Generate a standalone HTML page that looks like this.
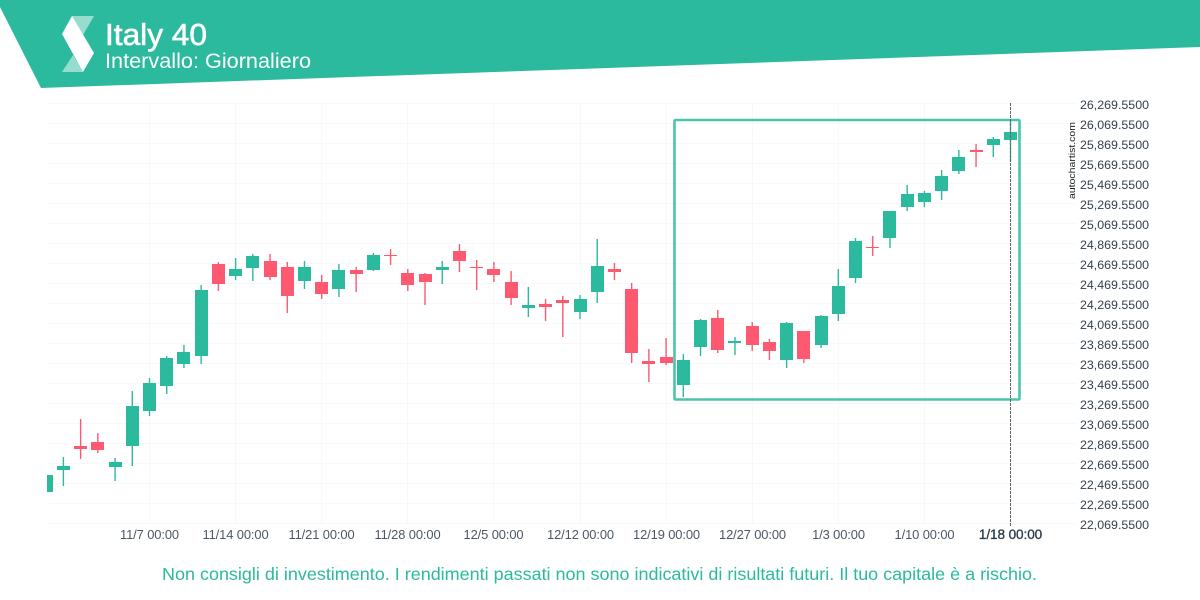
<!DOCTYPE html>
<html lang="it">
<head>
<meta charset="utf-8">
<title>Italy 40</title>
<style>
html,body{margin:0;padding:0;background:#fff;}
svg{display:block;font-family:"Liberation Sans",sans-serif;}
</style>
</head>
<body>
<svg id="chart" xmlns="http://www.w3.org/2000/svg" width="1200" height="600" viewBox="0 0 1200 600">
  <defs><clipPath id="plot-clip"><rect x="47" y="95" width="1030" height="440"/></clipPath></defs>
  <polygon points="0,0 1200,0 1200,47 41,88 0,7" fill="#2bba9e"/>
  <g>
    <polygon points="72,16 94,16 83,35" fill="#fff" fill-opacity="0.5"/>
    <polygon points="62,72 83,72 73,55" fill="#fff" fill-opacity="0.5"/>
    <polygon points="72,16 94,53 83,72 62,34" fill="#fff"/>
  </g>
  <text x="105" y="45" font-size="30.5" fill="#fff" stroke="#fff" stroke-width="0.6" textLength="102" lengthAdjust="spacingAndGlyphs">Italy 40</text>
  <text x="105" y="68" font-size="21" fill="#fff" textLength="206" lengthAdjust="spacingAndGlyphs">Intervallo: Giornaliero</text>
  <g id="grid"></g>
  <g id="candles" clip-path="url(#plot-clip)"></g>
  <rect x="674.5" y="120" width="345" height="279.5" rx="1" fill="none" stroke="#2bba9e" stroke-width="2.6" stroke-opacity="0.85"/>
  <line x1="1010.5" y1="103" x2="1010.5" y2="527" stroke="#666" stroke-width="1" stroke-dasharray="3,1"/>
  <g id="y-axis"></g>
  <g id="x-axis"></g>
  <text transform="translate(1075,199) rotate(-90)" font-size="9.5" fill="#222" textLength="77" lengthAdjust="spacingAndGlyphs">autochartist.com</text>
  <text x="162" y="580" font-size="17.5" fill="#2bba9e" textLength="875" lengthAdjust="spacingAndGlyphs">Non consigli di investimento. I rendimenti passati non sono indicativi di risultati futuri. Il tuo capitale è a rischio.</text>
</svg>
<script>
var opens = [22380,22600,22840,22880,22630,22840,23190,23440,23660,23740,24660,24540,24620,24690,24630,24490,24480,24410,24600,24600,24750,24570,24560,24600,24790,24630,24610,24480,24220,24260,24300,24180,24380,24610,24410,23690,23730,23450,23830,24120,23870,24040,23880,23700,23990,23850,24160,24520,24830,24920,25230,25280,25390,25590,25800,25850,25900];
var closes = [22550,22640,22810,22800,22680,23240,23470,23720,23780,24400,24460,24610,24740,24530,24340,24630,24360,24600,24560,24750,24740,24450,24480,24630,24690,24620,24550,24320,24250,24230,24270,24310,24640,24580,23770,23660,23670,23700,24100,23800,23890,23850,23790,24070,23710,24140,24440,24890,24820,25190,25360,25370,25540,25730,25780,25910,25980];
var highs = [22550,22730,23110,22970,22720,23390,23520,23740,23850,24450,24680,24720,24760,24760,24680,24690,24550,24660,24630,24770,24810,24610,24570,24690,24860,24700,24680,24590,24430,24310,24340,24350,24910,24670,24470,23810,23920,23760,24110,24200,23930,24080,23910,24080,23990,24150,24610,24920,24940,25190,25450,25390,25600,25800,25860,25930,26090];
var lows = [22380,22440,22710,22770,22490,22640,23140,23360,23620,23660,24390,24500,24490,24500,24170,24410,24310,24330,24380,24590,24650,24390,24250,24460,24580,24400,24480,24250,24130,24090,23930,24110,24270,24500,23670,23480,23650,23330,23740,23770,23750,23790,23700,23620,23670,23820,24090,24470,24740,24820,25190,25230,25300,25560,25630,25730,25680];
var yTicks = [22069.55,22269.55,22469.55,22669.55,22869.55,23069.55,23269.55,23469.55,23669.55,23869.55,24069.55,24269.55,24469.55,24669.55,24869.55,25069.55,25269.55,25469.55,25669.55,25869.55,26069.55,26269.55];
var yTickLabels = ["22,069.5500","22,269.5500","22,469.5500","22,669.5500","22,869.5500","23,069.5500","23,269.5500","23,469.5500","23,669.5500","23,869.5500","24,069.5500","24,269.5500","24,469.5500","24,669.5500","24,869.5500","25,069.5500","25,269.5500","25,469.5500","25,669.5500","25,869.5500","26,069.5500","26,269.5500"];
var xTickIndex = [6,11,16,21,26,31,36,41,46,51,56];
var xTickLabels = ["11/7 00:00","11/14 00:00","11/21 00:00","11/28 00:00","12/5 00:00","12/12 00:00","12/19 00:00","12/27 00:00","1/3 00:00","1/10 00:00","1/18 00:00"];

var NS = "http://www.w3.org/2000/svg";
function make(tag, attrs, parent, text) {
  var el = document.createElementNS(NS, tag);
  for (var k in attrs) { el.setAttribute(k, attrs[k]); }
  if (text !== undefined) { el.textContent = text; }
  parent.appendChild(el);
  return el;
}
function yScale(v) { return Math.round(523 + (22069.55 - v) / 10); }
function xScale(i) { return 1010.5 - 17.22 * (56 - i); }

var grid = document.getElementById("grid");
var yAxis = document.getElementById("y-axis");
var xAxis = document.getElementById("x-axis");
var candles = document.getElementById("candles");

yTicks.forEach(function (v, i) {
  var y = yScale(v);
  var line = make("rect", {x: 47, y: y, width: 1030, height: 1, fill: "#f7f8fa"}, grid);
  
  
  var label = make("text", {x: 1080, y: y + 6, "font-size": 12.2, fill: "#33404d", textLength: 69, lengthAdjust: "spacingAndGlyphs"}, yAxis, yTickLabels[i]);
  
  
});

xTickIndex.forEach(function (idx, i) {
  var x = Math.floor(xScale(idx));
  var line = make("rect", {x: x, y: 103, width: 1, height: 421, fill: "#f7f8fa"}, grid);
  
  
  var last = i === xTickIndex.length - 1;
  var label = make("text", {x: x + 0.5, y: 539, "font-size": last ? 13.6 : 12.9, "text-anchor": "middle", fill: last ? "#2a3a4a" : "#4a5866", "stroke": last ? "#2a3a4a" : "none", "stroke-width": last ? 0.3 : 0, "letter-spacing": "-0.1"}, xAxis, xTickLabels[i]);
  
  
});

opens.forEach(function (o, i) {
  var c = closes[i];
  var color = c >= o ? "#2bba9e" : "#fd5970";
  var cx = xScale(i);
  var top = yScale(Math.max(o, c));
  var bottom = yScale(Math.min(o, c));
  var group = make("g", {}, candles);
  
  
  var wick = make("rect", {x: cx - 0.7, y: yScale(highs[i]), width: 1.4, height: yScale(lows[i]) - yScale(highs[i]), fill: color}, group);
  
  
  var body = make("rect", {x: Math.round(cx - 6.5), y: top, width: 13, height: Math.max(1, bottom - top), fill: color}, group);
  
  
});
</script>
</body>
</html>
